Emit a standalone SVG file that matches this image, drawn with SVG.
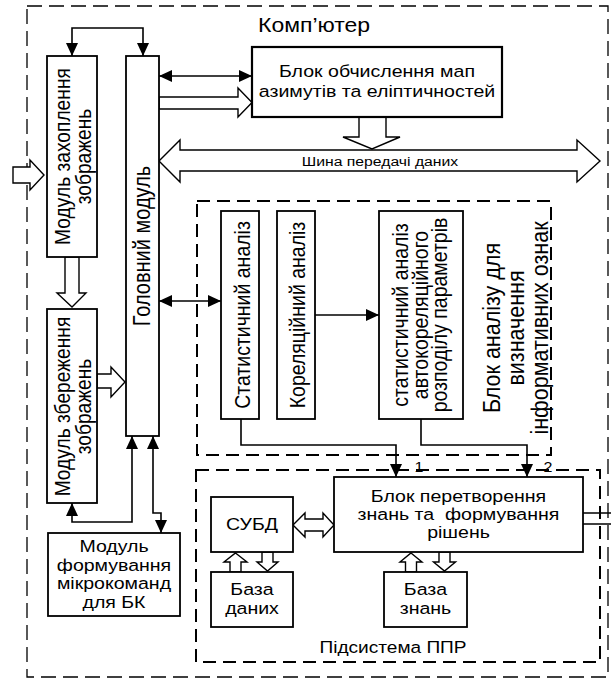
<svg xmlns="http://www.w3.org/2000/svg" width="611" height="679" viewBox="0 0 611 679">
<defs>
<style>
.box{fill:#fff;stroke:#000;stroke-width:1.8}
.frame{fill:none;stroke:#000;stroke-width:2;stroke-dasharray:13 7}
.outer{fill:none;stroke:#000;stroke-width:1.3;stroke-dasharray:15 7}
.ln{fill:none;stroke:#000;stroke-width:1.6}
.hol{fill:#fff;stroke:#000;stroke-width:1.4}
text{font-family:"Liberation Sans",Arial,sans-serif;fill:#000}
.h{font-size:17px;text-anchor:middle}
.v{font-size:19.5px;text-anchor:middle}
</style>
<marker id="ah" viewBox="0 0 13 12" refX="13" refY="6" markerWidth="13" markerHeight="12" markerUnits="userSpaceOnUse" orient="auto-start-reverse"><path d="M0,0L13,6L0,12z" fill="#000"/></marker>
</defs>
<rect width="611" height="679" fill="#fff"/>

<g id="computer">
<rect class="outer" x="27" y="6" width="581" height="671"/>
<text transform="translate(258,32) scale(1.15,1)" style="font-size:20px">Комп’ютер</text>
</g>

<g id="analysis-block">
<rect class="frame" x="197" y="201" width="354" height="254"/>
<text class="v" transform="translate(500,328) scale(1.15,1) rotate(-90)" style="font-size:21.5px"><tspan x="0" y="0">Блок аналізу для</tspan><tspan x="0" dy="20.9">визначення</tspan><tspan x="0" dy="20.9">інформативних ознак</tspan></text>
</g>

<g id="ppr-subsystem">
<rect class="frame" x="196" y="470" width="404" height="192"/>
<text class="h" transform="translate(393,653) scale(1.15,1)" style="font-size:16.6px">Підсистема ППР</text>
</g>

<g id="connectors">
<path class="ln" d="M72,56V28H143V56" marker-start="url(#ah)" marker-end="url(#ah)"/>
<path class="ln" d="M159,76H252" marker-start="url(#ah)" marker-end="url(#ah)"/>
<polygon class="hol" points="159,97 238,97 238,88 252,102.5 238,117 238,109 159,109"/>
<polygon class="hol" points="359,117 359,137 343,137 372,149 400,137 386,137 386,117"/>
<polygon class="hol" points="159,161 180,140 180,150 577,150 577,140 600,161 577,182 577,171 180,171 180,182"/>
<polygon class="hol" points="13,167 30,167 30,160 44,175 30,190 30,183 13,183"/>
<polygon class="hol" points="65,257 65,293 57,293 72,307 86,293 79,293 79,257"/>
<polygon class="hol" points="97,374 111,374 111,367 125,382 111,397 111,388 97,388"/>
<path class="ln" d="M159,301H221" marker-start="url(#ah)" marker-end="url(#ah)"/>
<path class="ln" d="M315,315H379" marker-end="url(#ah)"/>
<path class="ln" d="M241,419V445H396V477" marker-end="url(#ah)"/>
<path class="ln" d="M421,419V445H527V477" marker-end="url(#ah)"/>
<path class="ln" d="M132,436V522H72V503" marker-start="url(#ah)" marker-end="url(#ah)"/>
<path class="ln" d="M153,436V513H161V533" marker-start="url(#ah)" marker-end="url(#ah)"/>
<polygon class="hol" points="293,525 305,513 305,519 323,519 323,513 334,525 323,537 323,531 305,531 305,537"/>
<polygon class="hol" points="235.5,553 247,562 241,562 241,572 230,572 230,562 224,562"/>
<polygon class="hol" points="262,552 262,562 257,562 267.5,571 278,562 273,562 273,552"/>
<polygon class="hol" points="411,553 422,562 416.5,562 416.5,572 405.5,572 405.5,562 400,562"/>
<polygon class="hol" points="439,552 439,562 433.5,562 444.5,571 455.5,562 450,562 450,552"/>
<path class="ln" d="M583,513H611M583,524H611"/>
<text class="h" transform="translate(380,166) scale(1.15,1)" style="font-size:13.7px">Шина передачі даних</text>
<text class="h" transform="translate(419,472) scale(1.15,1)" style="font-size:14px">1</text>
<text class="h" transform="translate(548,472) scale(1.15,1)" style="font-size:14px">2</text>
</g>

<g id="capture-module">
<rect class="box" x="47" y="56" width="50" height="201"/>
<text class="v" transform="translate(70,156.5) scale(1.15,1) rotate(-90)" style="font-size:19.2px"><tspan x="0" y="0">Модуль захоплення</tspan><tspan x="0" dy="18.3">зображень</tspan></text>
</g>

<g id="storage-module">
<rect class="box" x="47" y="309" width="50" height="194"/>
<text class="v" transform="translate(70,406.5) scale(1.15,1) rotate(-90)" style="font-size:19.2px"><tspan x="0" y="0">Модуль збереження</tspan><tspan x="0" dy="18.3">зображень</tspan></text>
</g>

<g id="main-module">
<rect class="box" x="126" y="56" width="33" height="380"/>
<text class="v" transform="translate(150,246) scale(1.15,1) rotate(-90)" style="font-size:20px">Головний модуль</text>
</g>

<g id="map-block">
<rect class="box" x="252" y="47" width="250" height="70" style="stroke-width:2.2"/>
<text class="h" transform="translate(377,77) scale(1.15,1)"><tspan x="0" y="0">Блок обчислення мап</tspan><tspan x="0" dy="20">азимутів та еліптичностей</tspan></text>
</g>

<g id="stat-analysis">
<rect class="box" x="221" y="211" width="38" height="208"/>
<text class="v" transform="translate(250,315) scale(1.15,1) rotate(-90)">Статистичний аналіз</text>
</g>

<g id="corr-analysis">
<rect class="box" x="277" y="211" width="38" height="208"/>
<text class="v" transform="translate(305,315) scale(1.15,1) rotate(-90)">Кореляційний аналіз</text>
</g>

<g id="autocorr-analysis">
<rect class="box" x="379" y="211" width="84" height="208"/>
<text class="v" transform="translate(408,315) scale(1.15,1) rotate(-90)"><tspan x="0" y="0">статистичний аналіз</tspan><tspan x="0" dy="17">автокореляційного</tspan><tspan x="0" dy="17">розподілу параметрів</tspan></text>
</g>

<g id="knowledge-block">
<rect class="box" x="334" y="477" width="249" height="75"/>
<text class="h" transform="translate(458.5,502) scale(1.15,1)" xml:space="preserve"><tspan x="0" y="0">Блок перетворення</tspan><tspan x="0" dy="18">знань та  формування</tspan><tspan x="0" dy="18">рішень</tspan></text>
</g>

<g id="dbms">
<rect class="box" x="211" y="497" width="82" height="55"/>
<text class="h" transform="translate(252,530) scale(1.15,1)">СУБД</text>
</g>

<g id="database">
<rect class="box" x="211" y="572" width="82" height="55"/>
<text class="h" transform="translate(252,595) scale(1.15,1)"><tspan x="0" y="0">База</tspan><tspan x="0" dy="19">даних</tspan></text>
</g>

<g id="knowledge-base">
<rect class="box" x="384" y="572" width="83" height="55"/>
<text class="h" transform="translate(425.5,595) scale(1.15,1)"><tspan x="0" y="0">База</tspan><tspan x="0" dy="19">знань</tspan></text>
</g>

<g id="microcommand-module">
<rect class="box" x="48" y="533" width="132" height="83"/>
<text class="h" transform="translate(114,552) scale(1.15,1)"><tspan x="0" y="0">Модуль</tspan><tspan x="0" dy="18.7">формування</tspan><tspan x="0" dy="18.7">мікрокоманд</tspan><tspan x="0" dy="18.7">для БК</tspan></text>
</g>
</svg>
